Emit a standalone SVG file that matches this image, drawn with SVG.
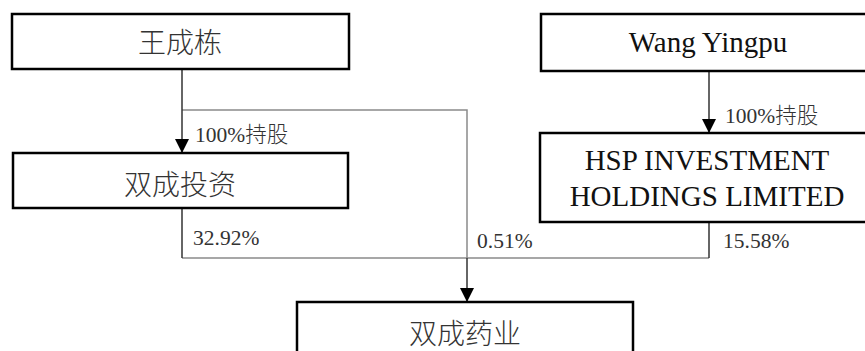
<svg xmlns="http://www.w3.org/2000/svg" width="865" height="351" viewBox="0 0 865 351">
<style>
.box{fill:#fff;stroke:#000;stroke-width:2.5}
.cn{font-family:"Noto Sans CJK SC",sans-serif;font-size:28px;font-weight:300;fill:#333;text-anchor:middle}
.en{font-family:"Liberation Serif","Noto Sans CJK SC",serif;font-size:29px;fill:#111;text-anchor:middle}
.lbl{font-family:"Liberation Serif","Noto Sans CJK SC",serif;font-size:21.5px;fill:#333}
.lc{font-family:"Noto Sans CJK SC",sans-serif;font-weight:300}
.dk{fill:none;stroke:#333;stroke-width:1.5}
.gy{fill:none;stroke:#8a8a8a;stroke-width:1.5}
</style>
<defs>
<marker id="ad" markerWidth="14" markerHeight="14" viewBox="-7 -14 14 14" refX="0" refY="0" orient="0" markerUnits="userSpaceOnUse">
<path d="M-7,-14 L7,-14 L0,0 Z" fill="#000"/>
</marker>
</defs>
<g id="connectors">
<path class="gy" d="M182,110 H467 V258"/>
<path class="gy" d="M182,258 H709"/>
<path class="dk" d="M182,208 V258"/>
<path class="dk" d="M709,222 V258"/>
<path class="dk" d="M182,69 V153" marker-end="url(#ad)"/>
<path class="dk" d="M709,71 V133" marker-end="url(#ad)"/>
<path class="dk" d="M467,258 V302" marker-end="url(#ad)"/>
<text class="lbl" x="195" y="142">100%<tspan class="lc">持股</tspan></text>
<text class="lbl" x="725" y="123">100%<tspan class="lc">持股</tspan></text>
<text class="lbl" x="193" y="245">32.92%</text>
<text class="lbl" x="477" y="248">0.51%</text>
<text class="lbl" x="723" y="248">15.58%</text>
</g>
<g id="n1">
<rect class="box" x="12" y="14" width="337" height="55"/>
<text class="cn" x="180" y="53">王成栋</text>
</g>
<g id="n2">
<rect class="box" x="13" y="153" width="335" height="55"/>
<text class="cn" x="180" y="195">双成投资</text>
</g>
<g id="n3">
<rect class="box" x="541" y="14" width="334" height="57"/>
<text class="en" x="708" y="52">Wang Yingpu</text>
</g>
<g id="n4">
<rect class="box" x="540" y="133" width="335" height="89"/>
<text class="en" x="707" y="170">HSP INVESTMENT</text>
<text class="en" x="707" y="206">HOLDINGS LIMITED</text>
</g>
<g id="n5">
<rect class="box" x="297" y="302" width="336" height="60"/>
<text class="cn" x="465" y="344">双成药业</text>
</g>
</svg>
